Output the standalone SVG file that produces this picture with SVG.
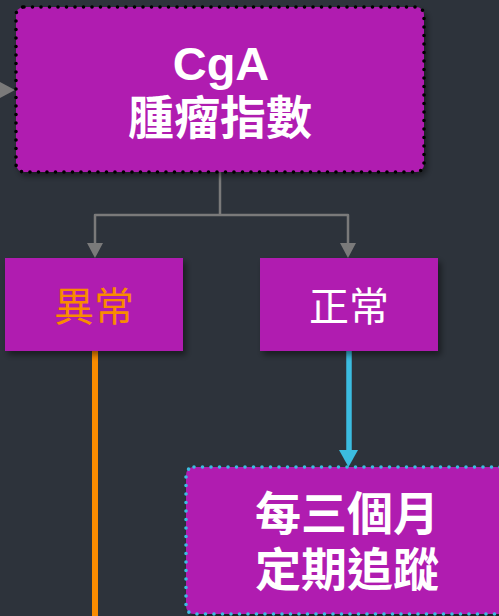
<svg xmlns="http://www.w3.org/2000/svg" width="499" height="616" viewBox="0 0 499 616">
<defs>
<filter id="sh" x="-10%" y="-10%" width="130%" height="140%">
<feDropShadow dx="3" dy="4" stdDeviation="3" flood-color="#000" flood-opacity="0.45"/>
</filter>
</defs>
<style>
.node{fill:#b01cb0;filter:url(#sh)}
.dotk{fill:none;stroke:#000;stroke-width:3.6;stroke-linecap:round;stroke-dasharray:0 8.5}
.dotb{fill:none;stroke:#3bbce0;stroke-width:3.6;stroke-linecap:round;stroke-dasharray:0 8.5}
.t{font-family:"Liberation Sans","Noto Sans CJK TC",sans-serif;text-anchor:middle;fill:#fff}
.gray{fill:none;stroke:#7a7a7a;stroke-width:2.5;stroke-linejoin:round}
</style>
<rect width="499" height="616" fill="#2d333b"/>
<g id="connectors">
<polygon points="0,82 15,90 0,98" fill="#7a7a7a"/>
<path class="gray" d="M220,172 V215 M95,243 V215 H348 V243"/>
<polygon points="87,243 103,243 95,258" fill="#7a7a7a"/>
<polygon points="340,243 356,243 348,258" fill="#7a7a7a"/>
<path d="M95,349 V620" stroke="#f98b00" stroke-width="6" stroke-linecap="round" fill="none"/>
<path d="M349,350 V452" stroke="#3bbce0" stroke-width="5.5" stroke-linecap="round" fill="none"/>
<polygon points="339,450 358,450 348.5,467" fill="#3bbce0"/>
</g>
<g id="cga">
<rect class="node" x="16" y="7" width="408" height="165" rx="8"/>
<rect class="dotk" x="16" y="7" width="408" height="165" rx="8"/>
<text class="t" x="221" y="80" font-size="47" font-weight="bold">CgA</text>
<text class="t" x="220" y="134" font-size="46" font-weight="bold">腫瘤指數</text>
</g>
<g id="abnormal">
<rect class="node" x="5" y="258" width="178" height="93"/>
<text class="t" x="94" y="321" font-size="40" style="fill:#f98b00">異常</text>
</g>
<g id="normal">
<rect class="node" x="260" y="258" width="178" height="93"/>
<text class="t" x="349" y="321" font-size="40">正常</text>
</g>
<g id="followup">
<rect class="node" x="186" y="467" width="322" height="147" rx="8"/>
<rect class="dotb" x="186" y="467" width="322" height="147" rx="8"/>
<text class="t" x="347" y="530" font-size="46" font-weight="bold">每三個月</text>
<text class="t" x="347" y="586" font-size="46" font-weight="bold">定期追蹤</text>
</g>
</svg>
